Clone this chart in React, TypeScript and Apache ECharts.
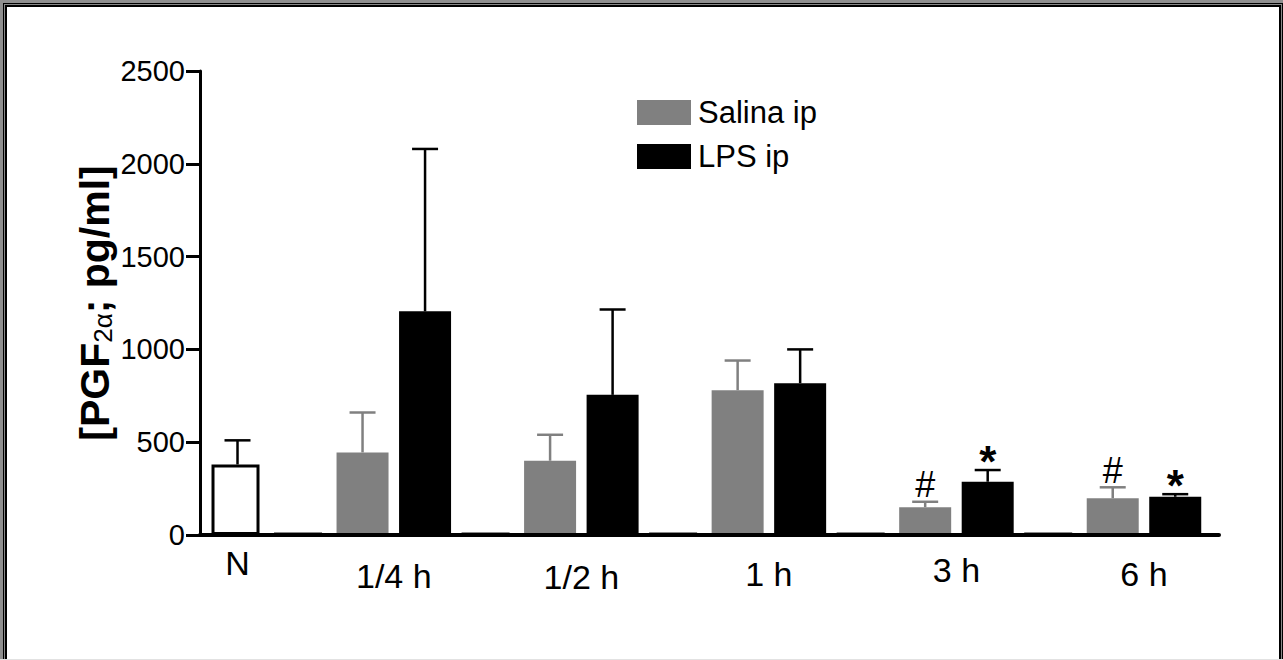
import React, { useEffect, useRef } from "react";
import * as echarts from "echarts";

// ---- data ----
const categories = ["N", "1/4 h", "1/2 h", "1 h", "3 h", "6 h"];
const controlMean = [380];
const controlUpper = [510];
const salinaMean = [445, 400, 780, 150, 198];
const salinaUpper = [660, 540, 940, 179, 257];
const lpsMean = [1205, 755, 818, 287, 206];
const lpsUpper = [2080, 1215, 1000, 350, 220];
const emptyControl = [0, 0, 0, 0, 0];
const salinaMarks = ["", "", "", "#", "#"];
const lpsMarks = ["", "", "", "*", "*"];
const yMin = 0;
const yMax = 2500;
const yStep = 500;

const FONT = "'Liberation Sans', Arial, sans-serif";

// slot layout: N at 0; each time group g uses slots 1+3g (empty control), 2+3g (salina), 3+3g (LPS)
const controlX = (i: number) => i;
const baseX = (g: number) => 1 + 3 * g;
const salinaX = (g: number) => 2 + 3 * g;
const lpsX = (g: number) => 3 + 3 * g;
const labelPos = categories.map((_, i) => (i === 0 ? 0 : 3 * (i - 1) + 2.5));
const labelLineHeights = [30, 56, 58, 52, 44, 52];

function errorSeries(name: string, xs: number[], means: number[], uppers: number[], marks: string[], color: string) {
  return {
    type: "custom",
    name,
    z: 5,
    data: means.map((m, i) => [xs[i], m, uppers[i]]),
    renderItem: (params: any, api: any) => {
      const x = api.value(0);
      const m = api.value(1);
      const u = api.value(2);
      const p0 = api.coord([x, m]);
      const p1 = api.coord([x, u]);
      const half = 13;
      const children: any[] = [
        { type: "line", shape: { x1: p0[0], y1: p0[1], x2: p1[0], y2: p1[1] }, style: { stroke: color, lineWidth: 2.5 } },
        { type: "line", shape: { x1: p1[0] - half, y1: p1[1], x2: p1[0] + half, y2: p1[1] }, style: { stroke: color, lineWidth: 2.5 } },
      ];
      const mark = marks[params.dataIndex];
      if (mark) {
        const star = mark === "*";
        children.push({
          type: "text",
          style: {
            text: mark,
            x: p1[0],
            y: star ? p1[1] + 13 : p1[1] + 1,
            align: "center",
            verticalAlign: "bottom",
            fontSize: star ? 44 : 36,
            fontWeight: star ? "bold" : "normal",
            fontFamily: FONT,
            fill: "#000",
          },
        });
      }
      return { type: "group", children };
    },
  };
}

export default function App() {
  const ref = useRef<HTMLDivElement>(null);
  useEffect(() => {
    if (!ref.current) return;
    const chart = echarts.init(ref.current, null, { renderer: "svg" });
    const groups = salinaMean.map((_, g) => g);
    chart.setOption({
      animation: false,
      backgroundColor: "#fff",
      grid: { left: 200, right: 64, top: 71, bottom: 125, containLabel: false },
      legend: {
        data: ["Salina ip", "LPS ip"],
        orient: "vertical",
        left: 632,
        top: 92,
        icon: "rect",
        itemWidth: 54,
        itemHeight: 25,
        itemGap: 13,
        textStyle: { fontSize: 31, color: "#000", fontFamily: FONT, padding: [0, 0, 0, 2] },
      },
      xAxis: {
        type: "value",
        min: -0.6,
        max: 15.7,
        z: 10,
        axisLine: { show: true, onZero: false, lineStyle: { color: "#000", width: 4 } },
        axisTick: { show: false },
        splitLine: { show: false },
        axisLabel: {
          customValues: labelPos,
          margin: 13,
          formatter: (v: number) => {
            const i = labelPos.indexOf(v);
            return i < 0 ? "" : `{c${i}|${categories[i]}}`;
          },
          rich: Object.fromEntries(
            categories.map((_, i) => [
              `c${i}`,
              { fontSize: 34, color: "#000", fontFamily: FONT, lineHeight: labelLineHeights[i] },
            ])
          ),
        },
      },
      yAxis: {
        type: "value",
        min: yMin,
        max: yMax,
        interval: yStep,
        z: 10,
        axisLine: { show: true, onZero: false, lineStyle: { color: "#000", width: 3 } },
        axisTick: { show: true, length: 14, lineStyle: { color: "#000", width: 3 } },
        splitLine: { show: false },
        axisLabel: { fontSize: 29, color: "#000", fontFamily: FONT, margin: 15, formatter: (v: number) => String(v) },
        name: "{b|[PGF}{s|2α}{b|; pg/ml]}",
        nameLocation: "middle",
        nameRotate: 90,
        nameGap: 84,
        nameMoveOverlap: false,
        nameTextStyle: {
          rich: {
            b: { fontSize: 41, fontWeight: "bold", color: "#000", fontFamily: FONT, lineHeight: 42 },
            s: { fontSize: 26, color: "#000", fontFamily: FONT, lineHeight: 16, verticalAlign: "bottom" },
          },
        },
      },
      series: [
        {
          type: "bar",
          name: "N",
          barWidth: 48,
          barGap: "-100%",
          itemStyle: { color: "#fff", borderColor: "#000", borderWidth: 3 },
          data: controlMean.map((v, i) => [controlX(i), v]),
        },
        {
          type: "bar",
          name: "empty",
          barWidth: 48,
          barGap: "-100%",
          barMinHeight: 3,
          itemStyle: { color: "#8a8a8a" },
          data: groups.map((g) => [baseX(g), emptyControl[g]]),
        },
        {
          type: "bar",
          name: "Salina ip",
          barWidth: 52,
          barGap: "-100%",
          itemStyle: { color: "#808080" },
          data: groups.map((g) => [salinaX(g), salinaMean[g]]),
        },
        {
          type: "bar",
          name: "LPS ip",
          barWidth: 52,
          barGap: "-100%",
          itemStyle: { color: "#000" },
          data: groups.map((g) => [lpsX(g), lpsMean[g]]),
        },
        errorSeries("N err", controlMean.map((_, i) => controlX(i)), controlMean, controlUpper, [""], "#000"),
        errorSeries("Salina err", groups.map(salinaX), salinaMean, salinaUpper, salinaMarks, "#808080"),
        errorSeries("LPS err", groups.map(lpsX), lpsMean, lpsUpper, lpsMarks, "#000"),
      ],
    });
    return () => chart.dispose();
  }, []);

  return (
    <div style={{ position: "fixed", left: 0, top: 0, width: 1283, height: 660, overflow: "hidden", background: "#fff" }}>
      <div ref={ref} style={{ position: "absolute", left: 0, top: 0, width: 1283, height: 660 }} />
      <div
        style={{
          position: "absolute",
          left: 0,
          top: 0,
          width: 1286,
          height: 700,
          boxSizing: "border-box",
          pointerEvents: "none",
          boxShadow: "inset 0 0 0 3px #8f8f8f, inset 0 0 0 4px #000, inset 0 0 0 5px #888, inset 0 0 0 7px #000",
        }}
      />
      <div style={{ position: "absolute", left: 0, top: 659, width: 1283, height: 1, background: "#e2e2e2" }} />
    </div>
  );
}
